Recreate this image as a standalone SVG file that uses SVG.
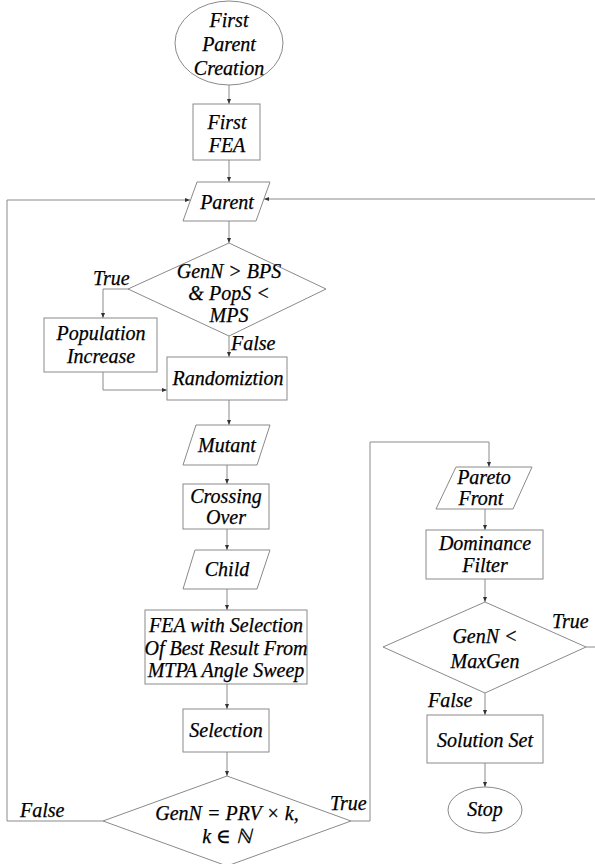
<svg xmlns="http://www.w3.org/2000/svg" width="595" height="864" viewBox="0 0 595 864">
<defs>
<marker id="ah" markerWidth="5" markerHeight="4" refX="5" refY="2" orient="auto" markerUnits="userSpaceOnUse">
<path d="M0,0 L5,2 L0,4 z" fill="#333"/>
</marker>
<style>
.s{fill:#fff;stroke:#8a8a8a;stroke-width:1}
.c{fill:none;stroke:#8a8a8a;stroke-width:1}
.a{marker-end:url(#ah)}
text{font-family:"Liberation Serif","DejaVu Serif",serif;font-style:italic;font-size:20px;fill:#000;stroke:#000;stroke-width:0.25;text-anchor:middle}
.l{text-anchor:start}
</style>
</defs>
<rect width="595" height="864" fill="#fff"/>
<g id="connectors">
<path class="c a" d="M229,85 V104"/>
<path class="c a" d="M229,160 V182"/>
<path class="c a" d="M7,821 H103 M7,821 V200 H190"/>
<path class="c a" d="M586,647 H596 V199 H264"/>
<path class="c a" d="M229,221 V243"/>
<path class="c a" d="M131,289 H103 V318"/>
<path class="c a" d="M229,336 V357"/>
<path class="c a" d="M103,372 V390 H167"/>
<path class="c a" d="M229,400 V425"/>
<path class="c a" d="M227,465 V484"/>
<path class="c a" d="M227,529 V550"/>
<path class="c a" d="M227,589 V610"/>
<path class="c a" d="M227,684 V709"/>
<path class="c a" d="M227,752 V776"/>
<path class="c a" d="M351,821 H370 V442 H489 V467"/>
<path class="c a" d="M485,509 V530"/>
<path class="c a" d="M485,579 V602"/>
<path class="c a" d="M485,693 V715"/>
<path class="c a" d="M485,763 V787"/>
</g>
<g id="first-parent-creation">
<ellipse class="s" cx="229" cy="43" rx="54" ry="42"/>
<text x="229" y="27">First</text>
<text x="229" y="51">Parent</text>
<text x="229" y="75">Creation</text>
</g>
<g id="first-fea">
<rect class="s" x="193" y="104" width="67" height="56"/>
<text x="227" y="129">First</text>
<text x="227" y="152">FEA</text>
</g>
<g id="parent">
<polygon class="s" points="197,182 270,182 256,221 183,221"/>
<text x="227" y="209">Parent</text>
</g>
<g id="decision-popsize">
<polygon class="s" points="229,243 326,289 229,336 128,289"/>
<text x="229" y="278">GenN &gt; BPS</text>
<text x="229" y="300">&amp; PopS &lt;</text>
<text x="229" y="322">MPS</text>
<text class="l" x="93" y="285">True</text>
<text class="l" x="231" y="350">False</text>
</g>
<g id="population-increase">
<rect class="s" x="44" y="318" width="113" height="54"/>
<text x="101" y="340">Population</text>
<text x="101" y="363">Increase</text>
</g>
<g id="randomization">
<rect class="s" x="167" y="357" width="120" height="43"/>
<text x="228" y="385">Randomiztion</text>
</g>
<g id="mutant">
<polygon class="s" points="196,425 270,425 257,465 183,465"/>
<text x="227" y="452">Mutant</text>
</g>
<g id="crossing-over">
<rect class="s" x="183" y="484" width="86" height="45"/>
<text x="226" y="503">Crossing</text>
<text x="226" y="524">Over</text>
</g>
<g id="child">
<polygon class="s" points="195,550 270,550 257,589 183,589"/>
<text x="227" y="576">Child</text>
</g>
<g id="fea-selection">
<rect class="s" x="145" y="610" width="162" height="74"/>
<text x="226" y="632">FEA with Selection</text>
<text x="226" y="655">Of Best Result From</text>
<text x="226" y="677">MTPA Angle Sweep</text>
</g>
<g id="selection">
<rect class="s" x="183" y="709" width="86" height="43"/>
<text x="226" y="737">Selection</text>
</g>
<g id="decision-prv">
<polygon class="s" points="227,776 351,821 227,866 103,821"/>
<text x="227" y="820">GenN = PRV × k,</text>
<text x="227" y="843">k ∈ ℕ</text>
<text class="l" x="20" y="817">False</text>
<text class="l" x="330" y="810">True</text>
</g>
<g id="pareto-front">
<polygon class="s" points="456,467 532,467 513,509 436,509"/>
<text x="484" y="484">Pareto</text>
<text x="481" y="505">Front</text>
</g>
<g id="dominance-filter">
<rect class="s" x="426" y="530" width="117" height="49"/>
<text x="485" y="550">Dominance</text>
<text x="485" y="572">Filter</text>
</g>
<g id="decision-maxgen">
<polygon class="s" points="485,602 586,647 485,693 383,647"/>
<text x="485" y="643">GenN &lt;</text>
<text x="485" y="668">MaxGen</text>
<text class="l" x="552" y="628">True</text>
<text class="l" x="428" y="707">False</text>
</g>
<g id="solution-set">
<rect class="s" x="427" y="715" width="116" height="48"/>
<text x="485" y="747">Solution Set</text>
</g>
<g id="stop">
<ellipse class="s" cx="485" cy="810" rx="37" ry="23"/>
<text x="485" y="816">Stop</text>
</g>
</svg>
